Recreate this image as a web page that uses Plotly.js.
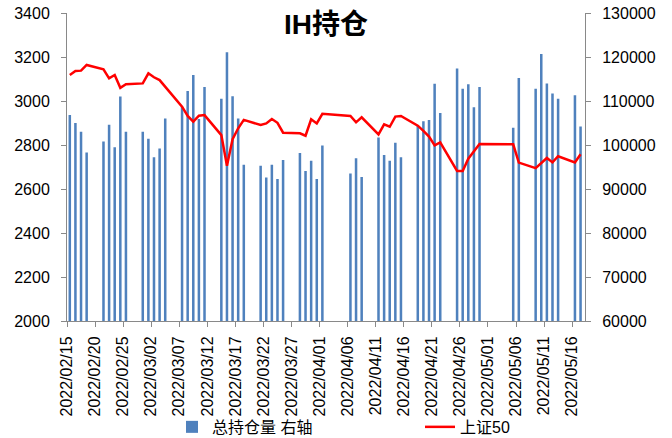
<!DOCTYPE html>
<html>
<head>
<meta charset="utf-8">
<script src="https://cdn.plot.ly/plotly-3.0.1.min.js"></script>
<style>
  body { margin: 0; background: #fff; }
  #chart { width: 672px; height: 438px; }
</style>
</head>
<body>
<div id="chart"></div>
<script>
// trading days shown on the chart
const dates = [
    '2022-02-15', '2022-02-16', '2022-02-17', '2022-02-18', '2022-02-21', '2022-02-22', '2022-02-23', '2022-02-24', '2022-02-25', '2022-02-28',
    '2022-03-01', '2022-03-02', '2022-03-03', '2022-03-04', '2022-03-07', '2022-03-08', '2022-03-09', '2022-03-10', '2022-03-11',
    '2022-03-14', '2022-03-15', '2022-03-16', '2022-03-17', '2022-03-18', '2022-03-21', '2022-03-22', '2022-03-23', '2022-03-24', '2022-03-25',
    '2022-03-28', '2022-03-29', '2022-03-30', '2022-03-31', '2022-04-01',
    '2022-04-06', '2022-04-07', '2022-04-08', '2022-04-11', '2022-04-12', '2022-04-13', '2022-04-14', '2022-04-15',
    '2022-04-18', '2022-04-19', '2022-04-20', '2022-04-21', '2022-04-22', '2022-04-25', '2022-04-26', '2022-04-27', '2022-04-28', '2022-04-29',
    '2022-05-05', '2022-05-06', '2022-05-09', '2022-05-10', '2022-05-11', '2022-05-12', '2022-05-13', '2022-05-16', '2022-05-17'
];

// 总持仓量 (right axis)
const openInterest = [
    106800, 105000, 103000, 98300, 100800, 104600, 99500, 111000, 103000, 103000,
    101400, 97200, 99200, 106000, 108700, 112300, 115900, 105900, 113200,
    110500, 121100, 111100, 106000, 95500, 95300, 92600, 95500, 92300, 96600,
    98200, 94100, 96400, 92300, 99900,
    93500, 97000, 92700, 101700, 97700, 96400, 100500, 97200,
    104300, 105400, 105700, 113900, 107300, 117400, 112800, 113800, 108600, 113200,
    103900, 115200, 112800, 120700, 114000, 111700, 110500, 111300, 104200
];

// 上证50 (left axis)
const sz50 = [
    3118, 3136, 3138, 3164, 3144, 3103, 3118, 3060, 3076, 3080,
    3126, 3108, 3095, 3066, 2974, 2932, 2906, 2933, 2936,
    2845, 2706, 2826, 2876, 2914, 2891, 2898, 2918, 2901, 2856,
    2853, 2842, 2917, 2898, 2942,
    2932, 2903, 2926, 2848, 2894, 2883, 2929, 2932,
    2888, 2864, 2838, 2798, 2812, 2682, 2682, 2738, 2773, 2805,
    2803, 2720, 2695, 2717, 2741, 2721, 2749, 2721, 2758
];

const DAY = 86400000;
const FONT = 'Liberation Sans, Noto Sans CJK SC, sans-serif';
// bars sit in the middle of their day slot
const xMid = dates.map(d => d + ' 12:00');

const data = [
    {
        x: xMid,
        y: openInterest,
        name: '总持仓量 右轴',
        type: 'bar',
        width: DAY * 0.45,
        marker: { color: '#4F81BD' },
        yaxis: 'y',
        legend: 'legend'
    },
    {
        x: xMid,
        y: sz50,
        name: '上证50',
        type: 'scatter',
        mode: 'lines',
        line: { color: '#FF0000', width: 2.5 },
        yaxis: 'y2',
        legend: 'legend2'
    }
];

const axisStyle = {
    showgrid: false,
    zeroline: false,
    showline: true,
    automargin: false,
    linecolor: '#898989',
    linewidth: 1,
    ticks: 'outside',
    ticklen: 5,
    tickcolor: '#898989',
    tickfont: { family: FONT, size: 16, color: '#000' }
};

const legendStyle = {
    orientation: 'h',
    xanchor: 'left',
    y: -0.344, yanchor: 'middle',
    bgcolor: 'rgba(0,0,0,0)',
    font: { family: FONT, size: 16, color: '#000' }
};

const layout = {
    width: 672,
    height: 438,
    margin: { l: 67, r: 87, t: 13, b: 117, autoexpand: false },
    paper_bgcolor: '#fff',
    plot_bgcolor: '#fff',
    title: {
        text: '<b>IH持仓</b>',
        font: { family: FONT, size: 28, color: '#000' },
        x: 0.5, xref: 'paper',
        y: 1 - 24 / 438, yref: 'container', yanchor: 'middle'
    },
    showlegend: true,
    legend: { ...legendStyle, x: (172 - 67) / 518 },
    legend2: { ...legendStyle, x: (420 - 67) / 518 },
    xaxis: {
        ...axisStyle,
        type: 'date',
        range: ['2022-02-15', '2022-05-18 07:00'],
        tick0: '2022-02-15',
        dtick: 5 * DAY,
        tickformat: '%Y/%m/%d',
        tickangle: -90,
        ticklabelstandoff: 3
    },
    // bars: right axis
    yaxis: {
        ...axisStyle,
        side: 'right',
        range: [60000, 130000],
        dtick: 10000,
        tickformat: 'd',
        ticklabelstandoff: 8
    },
    // line: left axis, drawn on top of the bars
    yaxis2: {
        ...axisStyle,
        side: 'left',
        overlaying: 'y',
        range: [2000, 3400],
        dtick: 200,
        ticklabelstandoff: 8
    }
};

Plotly.newPlot('chart', data, layout, { displayModeBar: false, staticPlot: true });
</script>
</body>
</html>
